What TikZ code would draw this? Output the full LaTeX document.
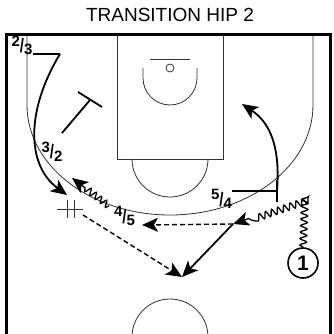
\documentclass[tikz,border=0pt]{standalone}
\usepackage{fontspec}
\setmainfont{Liberation Sans}
\usetikzlibrary{arrows.meta,decorations.pathmorphing}

\newcommand{\slashlbl}[2]{\raisebox{0.3em}{#1}\raisebox{-0.12em}{\scalebox{1}[1.3]{/}}\raisebox{-0.27em}{#2}}

\begin{document}
\begin{tikzpicture}[x=1pt, y=-1pt,
  court/.style={line width=0.8pt, draw=black!80},
  border/.style={line width=3pt},
  lbl/.style={font=\fontsize{15}{15}\selectfont\bfseries, inner sep=0pt},
  cut/.style={line width=1.8pt, -{Stealth[length=16pt,width=14pt,inset=4pt]}},
  pass/.style={line width=1.4pt, dash pattern=on 5pt off 3pt, -{Stealth[length=16pt,width=14pt,inset=4pt]}},
  dribble/.style={line width=1.3pt, -{Stealth[length=16pt,width=14pt,inset=4pt]},
    decorate, decoration={snake, amplitude=3.3pt, segment length=6.5pt, post length=14pt}},
  screen/.style={line width=1.8pt},
  player/.style={circle, draw, line width=1.6pt, minimum size=30pt, inner sep=0pt,
    font=\fontsize{21}{21}\selectfont\bfseries}
]
\clip (0,0) rectangle (333,334);

% court
\draw[court] (27,34) -- (27,105) arc[start angle=180, end angle=0, x radius=143, y radius=110] -- (313,34);
\draw[court] (117,34) rectangle (223,159);
\draw[court] (132,159) arc[start angle=180, end angle=0, radius=38];
\draw[court] (143,68) -- (143,78) arc[start angle=180, end angle=0, radius=27] -- (197,68);
\draw[court] (150,59) -- (190,59);
\draw[court] (170,68) circle[radius=4];
\draw[court] (170,337) circle[radius=38];
\draw[border] (6.5,340) -- (6.5,34.5) -- (330.5,34.5) -- (330.5,340);

\node[font=\fontsize{19}{19}\selectfont] (title) at (170,15) {TRANSITION HIP 2};

% players and labels
\node[player] (p1) at (303,263) {1};
\node[lbl] (l23) at (22,45.5) {\slashlbl{2}{3}};
\node[lbl] (l32) at (52,151.5) {\slashlbl{3}{2}};
\node[lbl] (l45) at (124.5,216) {\slashlbl{4}{5}};
\node[lbl] (l54) at (221.5,199) {\slashlbl{5}{4}};

% path points
\coordinate (a1) at (60,54);
\coordinate (a2) at (67,195);
\coordinate (s32o) at (62,133);
\coordinate (s32) at (90,100);
\coordinate (s32a) at (78,92);
\coordinate (s32b) at (102,107);
\coordinate (s54) at (277,191);
\coordinate (s54a) at (277,180);
\coordinate (s54b) at (277,202);
\coordinate (b1) at (242,104);
\coordinate (d1) at (305,199);
\coordinate (d2) at (233,224);
\coordinate (k1) at (72,178);
\coordinate (k0) at (109,206);
\coordinate (handout) at (83,215);
\coordinate (pw) at (142,225);
\coordinate (rcv) at (182,277);

% handoff mark
\draw[court] (57,209) -- (83,209);
\draw[court] (67,200) -- (67,218);
\draw[court] (74,200) -- (74,218);

% 2/3 cut
\draw[screen] (l23.east |- a1) -- (a1);
\draw[cut] (a1) .. controls (26,110) and (26,165) .. (a2);
% 3/2 screen
\draw[screen] (s32o) -- (s32);
\draw[screen] (s32a) -- (s32b);
% 5/4 screen and roll
\draw[screen] (l54.east |- s54) -- (s54);
\draw[screen] (s54a) -- (s54b);
\draw[cut] (s54) .. controls (281,140) and (266,120) .. (b1);
% 4/5 dribble
\draw[dribble] (k0) -- (k1);
% 1 dribble
\draw[dribble] (p1.north) -- (d1) -- (d2);
% passes and cut
\draw[pass] (d2) -- (pw);
\draw[pass] (handout) -- (rcv);
\draw[cut] (d2) -- (rcv);
\end{tikzpicture}
\end{document}
